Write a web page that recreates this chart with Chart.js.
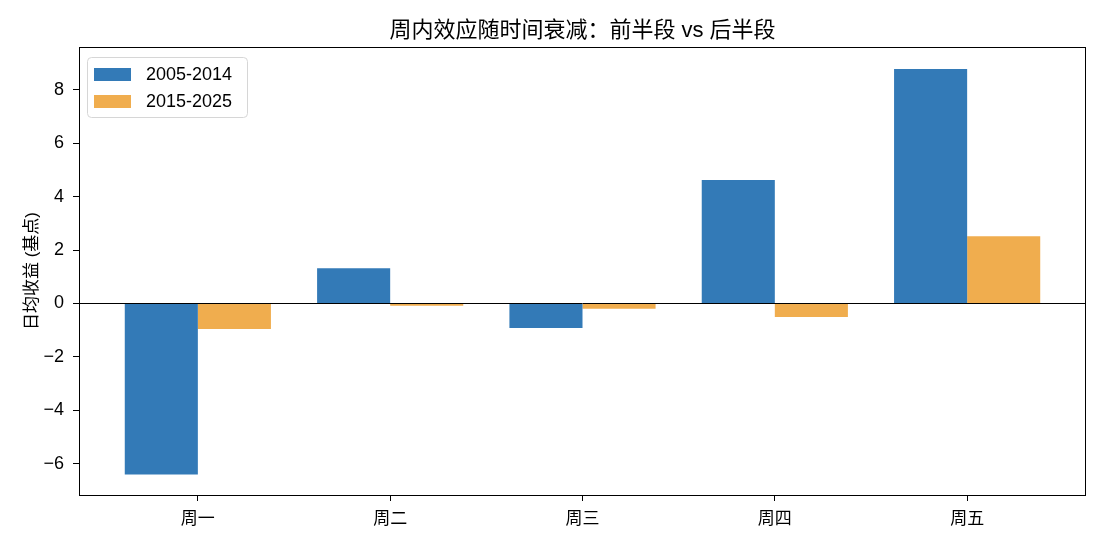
<!DOCTYPE html>
<html>
<head>
<meta charset="utf-8">
<script src="https://cdn.jsdelivr.net/npm/chart.js@4/dist/chart.umd.min.js"></script>
<style>
  html, body { margin: 0; padding: 0; background: #fff; }
  canvas { display: block; }
</style>
</head>
<body>
<canvas id="chart" width="1105" height="546"></canvas>
<script>
// --- data ---
const days = ["周一", "周二", "周三", "周四", "周五"];
const seriesNames = ["2005-2014", "2015-2025"];
const early = [-6.4, 1.32, -0.92, 4.62, 8.78];
const late = [-0.96, -0.09, -0.2, -0.51, 2.52];
const yTicks = [-6, -4, -2, 0, 2, 4, 6, 8];

const titleText = "周内效应随时间衰减：前半段 vs 后半段";
const yTitle = "日均收益 (基点)";
// latin glyphs from Liberation Sans, CJK falls back to Noto
const FONT = "'Liberation Sans', 'Noto Sans CJK SC', sans-serif";
const colors = ["#337ab7", "#f0ad4e"];

// frame, zero line, title and legend box (matplotlib look)
const decor = {
  id: "decor",
  afterDatasetsDraw(chart) {
    const { ctx, chartArea: a, scales } = chart;
    const y0 = Math.round(scales.y.getPixelForValue(0)) + 0.5;
    ctx.save();
    ctx.strokeStyle = "#000";
    ctx.lineWidth = 1;
    ctx.beginPath();
    ctx.moveTo(a.left, y0);
    ctx.lineTo(a.right, y0);
    ctx.stroke();
    ctx.strokeRect(a.left + 0.5, a.top + 0.5, a.right - a.left - 1, a.bottom - a.top);
    ctx.restore();
  },
  afterDraw(chart) {
    const { ctx, chartArea: a } = chart;
    ctx.save();
    // title
    ctx.fillStyle = "#000";
    ctx.font = "22px " + FONT;
    ctx.textAlign = "center";
    ctx.textBaseline = "middle";
    ctx.fillText(titleText, (a.left + a.right) / 2, 31);

    // legend
    const bx = a.left + 8.5, by = a.top + 10.5, bw = 160, bh = 60, r = 4;
    ctx.beginPath();
    ctx.moveTo(bx + r, by);
    ctx.arcTo(bx + bw, by, bx + bw, by + bh, r);
    ctx.arcTo(bx + bw, by + bh, bx, by + bh, r);
    ctx.arcTo(bx, by + bh, bx, by, r);
    ctx.arcTo(bx, by, bx + bw, by, r);
    ctx.closePath();
    ctx.fillStyle = "rgba(255,255,255,0.8)";
    ctx.fill();
    ctx.strokeStyle = "#d6d6d6";
    ctx.lineWidth = 1;
    ctx.stroke();

    ctx.font = "18px " + FONT;
    ctx.textAlign = "left";
    chart.data.datasets.forEach((ds, i) => {
      const rowY = a.top + 21 + i * 27;
      ctx.fillStyle = ds.backgroundColor;
      ctx.fillRect(a.left + 15, rowY, 37, 13);
      ctx.fillStyle = "#000";
      ctx.fillText(ds.label, a.left + 67, rowY + 7);
    });
    ctx.restore();
  }
};

const fmt = v => (v < 0 ? "\u2212" + Math.abs(v) : String(v));

new Chart(document.getElementById("chart"), {
  type: "bar",
  data: {
    datasets: [
      { label: seriesNames[0], data: early.map((v, i) => ({ x: i, y: v })), backgroundColor: colors[0] },
      { label: seriesNames[1], data: late.map((v, i) => ({ x: i, y: v })), backgroundColor: colors[1] }
    ]
  },
  options: {
    responsive: false,
    animation: false,
    devicePixelRatio: 1,
    categoryPercentage: 0.76,
    barPercentage: 1,
    layout: { padding: { top: 47, right: 19, left: 0, bottom: 0 } },
    plugins: {
      legend: { display: false },
      title: { display: false },
      tooltip: { enabled: false }
    },
    scales: {
      x: {
        type: "linear",
        min: -0.618,
        max: 4.618,
        offset: false,
        afterBuildTicks: s => { s.ticks = days.map((d, i) => ({ value: i })); },
        afterFit: s => { s.height = 51; },
        border: { display: false },
        grid: { offset: false, drawOnChartArea: false, tickLength: 6, tickColor: "#000", tickWidth: 1 },
        ticks: {
          color: "#000",
          padding: 8,
          maxRotation: 0,
          autoSkip: false,
          font: { family: FONT, size: 17 },
          callback: v => days[v]
        }
      },
      y: {
        min: -7.17,
        max: 9.6,
        afterBuildTicks: s => { s.ticks = yTicks.map(v => ({ value: v })); },
        afterFit: s => { s.width = 79; },
        border: { display: false },
        grid: { drawOnChartArea: false, tickLength: 6, tickColor: "#000", tickWidth: 1 },
        ticks: {
          color: "#000",
          padding: 9,
          font: { family: FONT, size: 18 },
          callback: v => fmt(v)
        },
        title: {
          display: true,
          text: yTitle,
          color: "#000",
          font: { family: FONT, size: 17 },
          padding: { top: 22, bottom: 0 }
        }
      }
    }
  },
  plugins: [decor]
});
</script>
</body>
</html>
